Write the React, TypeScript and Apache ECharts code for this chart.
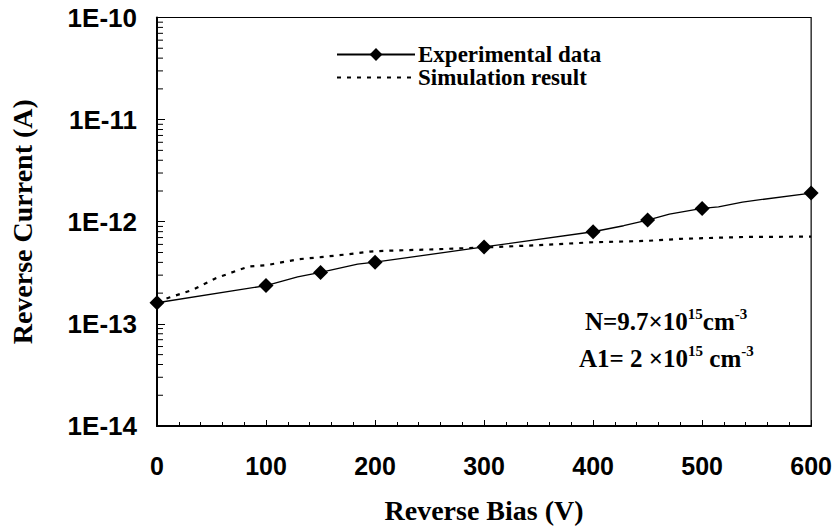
import React, { useEffect, useRef } from "react";
import * as echarts from "echarts";

// Experimental data (V, A); markers only on the measured points listed in expMarkers
const expVoltage = [0, 100, 129, 150, 184, 200, 300, 400, 428, 450, 470, 500, 515, 537, 600];
const expCurrent = [1.61e-13, 2.37e-13, 2.88e-13, 3.19e-13, 3.85e-13, 4.02e-13, 5.67e-13, 7.98e-13, 9.14e-13, 1.04e-12, 1.19e-12, 1.35e-12, 1.4e-12, 1.56e-12, 1.91e-12];
const expMarkers = [0, 100, 150, 200, 300, 400, 450, 500, 600];

// Simulation result
const simVoltage = [0, 12, 33, 54, 76, 85, 100, 130, 150, 175, 195, 210, 250, 300, 350, 400, 450, 480, 540, 600];
const simCurrent = [1.65e-13, 1.82e-13, 2.16e-13, 2.8e-13, 3.4e-13, 3.65e-13, 3.75e-13, 4.3e-13, 4.5e-13, 4.8e-13, 5.1e-13, 5.2e-13, 5.35e-13, 5.6e-13, 5.9e-13, 6.3e-13, 6.5e-13, 6.8e-13, 7.1e-13, 7.15e-13];

// Axis settings
const yDecades = [-14, -13, -12, -11];
const minorMultipliers = [2, 3, 4, 5, 6, 7, 8, 9];

const SERIF = "'Liberation Serif', 'Times New Roman', serif";
const SANS = "'Liberation Sans', Arial, sans-serif";

export default function App() {
  const ref = useRef<HTMLDivElement>(null);
  useEffect(() => {
    document.body.style.margin = "0";
    const chart = echarts.init(ref.current!, null, { renderer: "svg" });
    const minorTicks: number[][] = [];
    yDecades.forEach((d) => minorMultipliers.forEach((m) => minorTicks.push([0, m * Math.pow(10, d)])));

    const richStyles = {
      m: { fontFamily: SERIF, fontWeight: "bold", fontSize: 25, lineHeight: 28, verticalAlign: "bottom", fill: "#000" },
      s: { fontFamily: SERIF, fontWeight: "bold", fontSize: 15, lineHeight: 16, verticalAlign: "top", fill: "#000" },
    };

    chart.setOption({
      animation: false,
      backgroundColor: "#fff",
      grid: {
        left: 157,
        right: 23,
        top: 17.5,
        bottom: 100,
        show: true,
        borderColor: "#000",
        borderWidth: 1.2,
      },
      legend: {
        data: [
          { name: "Experimental data" },
          { name: "Simulation result", itemStyle: { opacity: 0 } },
        ],
        orient: "vertical",
        left: 331,
        top: 38,
        itemWidth: 78,
        itemHeight: 16,
        itemGap: 0,
        textStyle: { fontFamily: SERIF, fontWeight: "bold", fontSize: 23, color: "#000", lineHeight: 22, padding: [0, 0, 0, -2] },
      },
      xAxis: {
        type: "value",
        min: 0,
        max: 600,
        interval: 100,
        name: "Reverse Bias (V)",
        nameLocation: "middle",
        nameGap: 70,
        nameTextStyle: { fontFamily: SERIF, fontWeight: "bold", fontSize: 28, color: "#000" },
        axisLine: { lineStyle: { color: "#000", width: 2 } },
        axisTick: { inside: true, length: 6, lineStyle: { color: "#000" } },
        minorTick: { show: true, splitNumber: 5, length: 4, lineStyle: { color: "#000" } },
        splitLine: { show: false },
        axisLabel: { margin: 27, fontFamily: SANS, fontWeight: "bold", fontSize: 25, color: "#000" },
      },
      yAxis: {
        type: "log",
        logBase: 10,
        min: 1e-14,
        max: 1e-10,
        name: "Reverse Current (A)",
        nameLocation: "middle",
        nameRotate: 90,
        nameGap: 121,
        nameTextStyle: { fontFamily: SERIF, fontWeight: "bold", fontSize: 28, color: "#000" },
        axisLine: { lineStyle: { color: "#000", width: 2 } },
        axisTick: { inside: true, length: 8, lineStyle: { color: "#000" } },
        splitLine: { show: false },
        axisLabel: {
          margin: 20,
          fontFamily: SANS,
          fontWeight: "bold",
          fontSize: 26,
          color: "#000",
          formatter: (v: number) => "1E" + Math.round(Math.log10(v)),
        },
      },
      graphic: [
        {
          type: "text",
          x: 585,
          y: 320,
          style: { text: "{m|N=9.7×10}{s|15}{m|cm}{s|-3}", verticalAlign: "middle", rich: richStyles },
        },
        {
          type: "text",
          x: 579,
          y: 357,
          style: { text: "{m|A1= 2 ×10}{s|15}{m| cm}{s|-3}", verticalAlign: "middle", rich: richStyles },
        },
      ],
      series: [
        {
          name: "Experimental data",
          type: "line",
          symbol: "diamond",
          symbolSize: 15,
          itemStyle: { color: "#000" },
          lineStyle: { color: "#000", width: 1.3 },
          data: expVoltage.map((v, i) => ({
            value: [v, expCurrent[i]],
            symbol: expMarkers.includes(v) ? "diamond" : "none",
          })),
          z: 3,
        },
        {
          name: "Simulation result",
          type: "line",
          symbol: "none",
          itemStyle: { color: "#000" },
          lineStyle: { color: "#000", width: 2.2, type: [4, 6] },
          data: simVoltage.map((v, i) => [v, simCurrent[i]]),
          z: 2,
        },
        {
          name: "minorY",
          type: "custom",
          silent: true,
          data: minorTicks,
          renderItem: (params: any, api: any) => {
            const p = api.coord([api.value(0), api.value(1)]);
            return {
              type: "line",
              shape: { x1: p[0], y1: p[1], x2: p[0] + 6, y2: p[1] },
              style: { stroke: "#000", lineWidth: 1 },
            };
          },
          z: 1,
        },
      ],
    });
    return () => chart.dispose();
  }, []);
  return <div ref={ref} style={{ position: "fixed", left: 0, top: 0, width: 835, height: 529 }} />;
}
